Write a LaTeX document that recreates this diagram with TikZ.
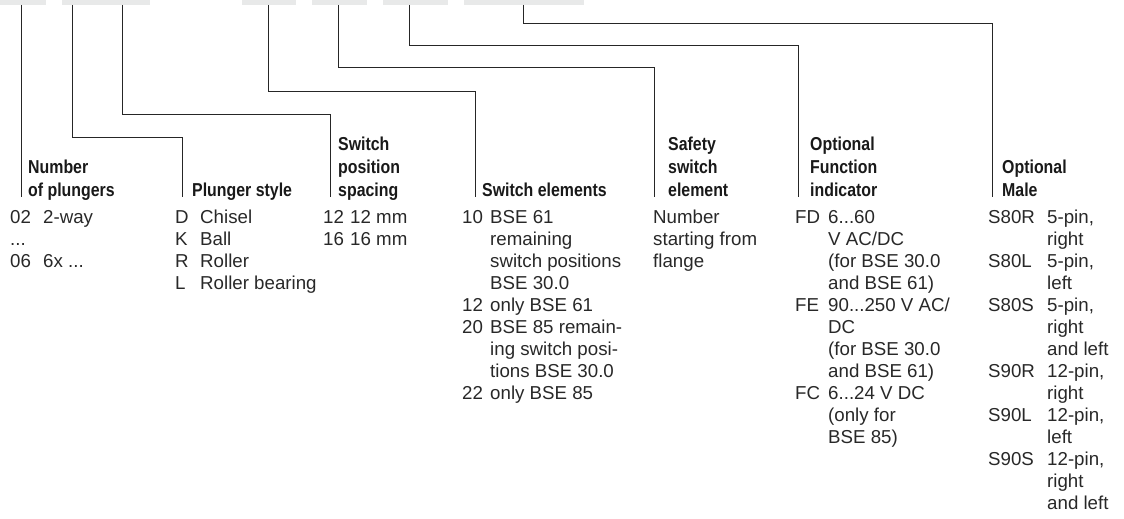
\documentclass[tikz,border=0pt]{standalone}
\usepackage{fontspec}
\setmainfont{Liberation Sans}
\newfontfamily\hfont[FakeStretch=0.85]{Liberation Sans}
\definecolor{boxgray}{RGB}{232,233,233}
\definecolor{ink}{RGB}{40,40,40}
\newcommand\mydots{...}
\begin{document}
\begin{tikzpicture}[x=1pt,y=-1pt,
  body/.style={inner sep=0pt, anchor=base west, font=\fontsize{18.7}{22}\selectfont, text=ink},
  head/.style={inner sep=0pt, anchor=base west, font=\hfont\bfseries\fontsize{18.7}{23}\selectfont, text=black!90},
  conn/.style={draw=black!85, line width=0.9pt},
  topbox/.style={fill=boxgray, draw=none, inner sep=0pt, minimum height=5pt, anchor=north west}]
\useasboundingbox (0,0) rectangle (1124,519);

% top boxes
\node[topbox, minimum width=46pt]  (b1) at (0,0) {};
\node[topbox, minimum width=88pt]  (b2) at (62,0) {};
\node[topbox, minimum width=54pt]  (b3) at (242,0) {};
\node[topbox, minimum width=55pt]  (b4) at (312,0) {};
\node[topbox, minimum width=65pt]  (b5) at (383,0) {};
\node[topbox, minimum width=120pt] (b6) at (464,0) {};

% connector points
\coordinate (s1) at (21,5);   \coordinate (e1) at (21,197);
\coordinate (s2) at (72,5);   \coordinate (h2) at (182,137); \coordinate (e2) at (182,197);
\coordinate (s3) at (122,5);  \coordinate (h3) at (330,114); \coordinate (e3) at (330,197);
\coordinate (s4) at (268,5);  \coordinate (h4) at (475,91);  \coordinate (e4) at (475,197);
\coordinate (s5) at (338,5);  \coordinate (h5) at (654,67);  \coordinate (e5) at (654,197);
\coordinate (s6) at (409,5);  \coordinate (h6) at (798,45);  \coordinate (e6) at (798,197);
\coordinate (s7) at (523,5);  \coordinate (h7) at (992,23);  \coordinate (e7) at (992,197);

\draw[conn] (s1) -- (e1);
\draw[conn] (s2) |- (h2) -- (e2);
\draw[conn] (s3) |- (h3) -- (e3);
\draw[conn] (s4) |- (h4) -- (e4);
\draw[conn] (s5) |- (h5) -- (e5);
\draw[conn] (s6) |- (h6) -- (e6);
\draw[conn] (s7) |- (h7) -- (e7);

% headings
\node[head] (t1a) at (28,173) {Number};
\node[head] (t1b) at (28,196) {of plungers};
\node[head] (t2a) at (192,196) {Plunger style};
\node[head] (t3a) at (338,150) {Switch};
\node[head] (t3b) at (338,173) {position};
\node[head] (t3c) at (338,196) {spacing};
\node[head] (t4a) at (482,196) {Switch elements};
\node[head] (t5a) at (668,150) {Safety};
\node[head] (t5b) at (668,173) {switch};
\node[head] (t5c) at (668,196) {element};
\node[head] (t6a) at (810,150) {Optional};
\node[head] (t6b) at (810,173) {Function};
\node[head] (t6c) at (810,196) {indicator};
\node[head] (t7a) at (1002,173) {Optional};
\node[head] (t7b) at (1002,196) {Male};

% column 1
\foreach \r/\c in {0/02,1/{\mydots},2/06}
  \node[body] (k1\r) at (10,{223+22*\r}) {\c};
\foreach \r/\d in {0/2-way,2/{6x \mydots}}
  \node[body] (d1\r) at (43,{223+22*\r}) {\d};

% column 2
\foreach \r/\c/\d in {0/D/Chisel,1/K/Ball,2/R/Roller,3/L/Roller bearing}{
  \node[body] (k2\r) at (175,{223+22*\r}) {\c};
  \node[body] (d2\r) at (200,{223+22*\r}) {\d};
}

% column 3
\foreach \r/\c/\d in {0/12/12 mm,1/16/16 mm}{
  \node[body] (k3\r) at (323,{223+22*\r}) {\c};
  \node[body] (d3\r) at (350,{223+22*\r}) {\d};
}

% column 4
\foreach \r/\c in {0/10,4/12,5/20,8/22}
  \node[body] (k4\r) at (462,{223+22*\r}) {\c};
\foreach \r/\d in {0/BSE 61,1/remaining,2/switch positions,3/BSE 30.0,4/only BSE 61,5/BSE 85 remain-,6/ing switch posi-,7/tions BSE 30.0,8/only BSE 85}
  \node[body] (d4\r) at (490,{223+22*\r}) {\d};

% column 5
\foreach \r/\d in {0/Number,1/starting from,2/flange}
  \node[body] (d5\r) at (653,{223+22*\r}) {\d};

% column 6
\foreach \r/\c in {0/FD,4/FE,8/FC}
  \node[body] (k6\r) at (795,{223+22*\r}) {\c};
\foreach \r/\d in {0/{6\mydots60},1/V AC\slash DC,2/(for BSE 30.0,3/and BSE 61),4/{90\mydots250 V AC\slash},5/DC,6/(for BSE 30.0,7/and BSE 61),8/{6\mydots24 V DC},9/(only for,10/BSE 85)}
  \node[body] (d6\r) at (828,{223+22*\r}) {\d};

% column 7
\foreach \r/\c in {0/S80R,2/S80L,4/S80S,7/S90R,9/S90L,11/S90S}
  \node[body] (k7\r) at (988,{223+22*\r}) {\c};
\foreach \r/\d in {0/{5-pin,},1/right,2/{5-pin,},3/left,4/{5-pin,},5/right,6/and left,7/{12-pin,},8/right,9/{12-pin,},10/left,11/{12-pin,},12/right,13/and left}
  \node[body] (d7\r) at (1047,{223+22*\r}) {\d};

\end{tikzpicture}
\end{document}
